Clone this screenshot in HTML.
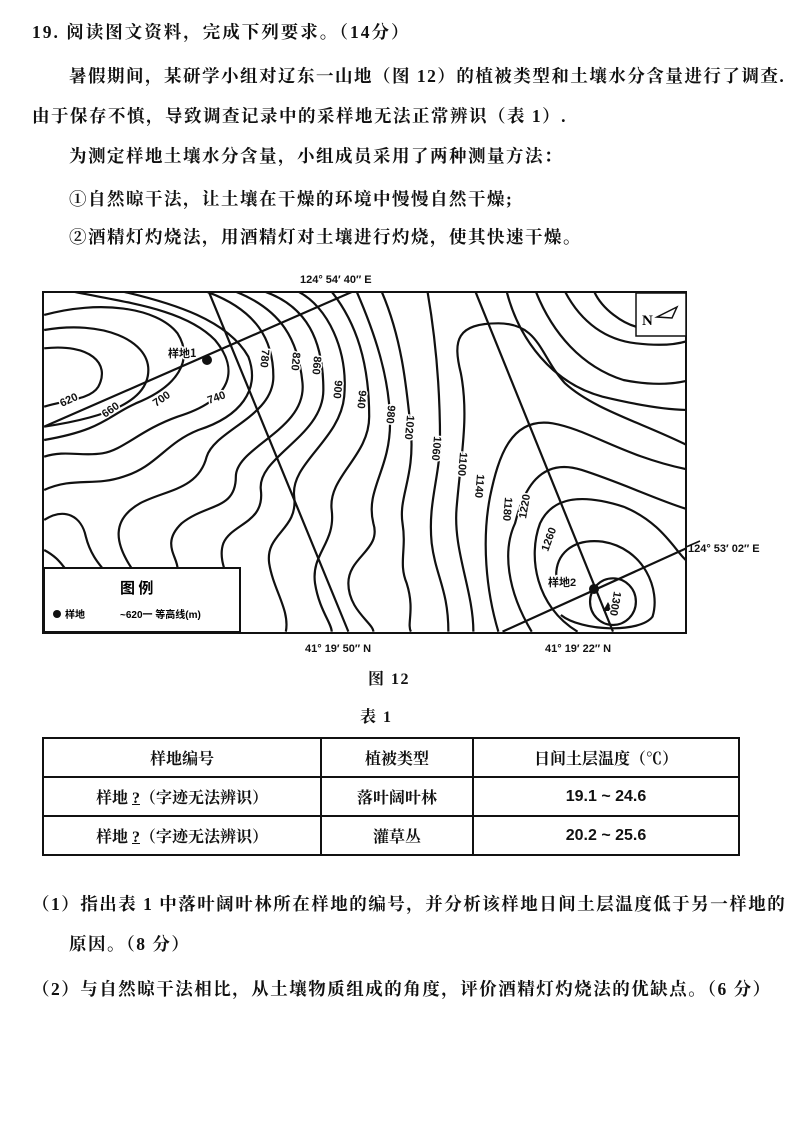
<!DOCTYPE html>
<html><head><meta charset="utf-8"><style>
body{margin:0;width:800px;height:1136px;background:#fff;position:relative;overflow:hidden;font-family:"Liberation Serif","Noto Serif CJK SC","Noto Sans CJK SC",serif;color:#111}
.t{position:absolute;white-space:nowrap;font-size:17.5px;font-weight:bold;line-height:1;letter-spacing:1.5px}
table{position:absolute;left:42px;top:737px;width:698px;border-collapse:collapse;font-size:16px;font-weight:bold}
td{border:2px solid #111;height:37px;text-align:center;padding:0}
svg{position:absolute;left:0;top:0}
</style></head><body>
<div class="t" style="left:32px;top:24px;letter-spacing:2px">19. 阅读图文资料，完成下列要求。（14分）</div>
<div class="t" style="left:69px;top:68px">暑假期间，某研学小组对辽东一山地（图 12）的植被类型和土壤水分含量进行了调查.</div>
<div class="t" style="left:32px;top:108px">由于保存不慎，导致调查记录中的采样地无法正常辨识（表 1）.</div>
<div class="t" style="left:69px;top:148px">为测定样地土壤水分含量，小组成员采用了两种测量方法：</div>
<div class="t" style="left:69px;top:191px">①自然晾干法，让土壤在干燥的环境中慢慢自然干燥;</div>
<div class="t" style="left:69px;top:229px">②酒精灯灼烧法，用酒精灯对土壤进行灼烧，使其快速干燥。</div>

<svg width="800" height="700" viewBox="0 0 800 700">
<defs><clipPath id="c"><rect x="43" y="292" width="643" height="341"/></clipPath></defs>
<g font-family="Liberation Sans,Noto Sans CJK SC,sans-serif" font-weight="bold" font-size="11" fill="#111">
<text x="300" y="283">124° 54′ 40″ E</text>
<text x="688" y="552">124° 53′ 02″ E</text>
<text x="305" y="652">41° 19′ 50″ N</text>
<text x="545" y="652">41° 19′ 22″ N</text>
</g>
<g clip-path="url(#c)">
<g transform="translate(40,290) scale(0.4167,0.3333)" fill="none" stroke="#111" stroke-width="2.2">
<path vector-effect="non-scaling-stroke" d="M10,175 C120,160 170,220 140,290 C120,330 60,330 10,350"/>
<path vector-effect="non-scaling-stroke" d="M10,120 C150,90 260,150 260,240 C260,330 170,380 10,410"/>
<path vector-effect="non-scaling-stroke" d="M10,75 C140,30 280,50 330,130 C370,210 330,290 230,340 C160,380 150,420 10,450"/>
<path vector-effect="non-scaling-stroke" d="M80,5 C220,40 350,60 420,150 C480,240 460,330 330,380 C240,420 200,480 150,490 C100,500 60,480 10,500"/>
<path vector-effect="non-scaling-stroke" d="M200,5 C320,40 450,90 500,200 C530,300 480,380 380,420 C300,460 280,530 200,560 C130,590 80,560 10,600"/>
<path vector-effect="non-scaling-stroke" d="M400,5 C520,60 560,150 560,260 C560,380 420,420 400,500 C380,600 300,600 240,640 C170,690 180,760 220,835"/>
<path vector-effect="non-scaling-stroke" d="M470,5 C580,60 620,150 630,280 C640,420 470,470 470,560 C470,660 400,640 340,700 C290,760 330,800 330,835"/>
<path vector-effect="non-scaling-stroke" d="M540,5 C640,50 680,150 680,300 C680,440 520,500 530,600 C540,700 460,700 440,760 C420,830 480,900 470,1025"/>
<path vector-effect="non-scaling-stroke" d="M620,5 C690,50 740,180 730,320 C720,450 600,520 610,620 C620,720 540,730 550,820 C560,900 600,960 590,1025"/>
<path vector-effect="non-scaling-stroke" d="M700,5 C760,100 790,220 790,380 C790,500 690,560 700,660 C710,760 650,790 660,880 C670,960 700,1000 700,1025"/>
<path vector-effect="non-scaling-stroke" d="M760,5 C800,120 840,260 840,400 C840,540 780,600 800,700 C820,780 740,800 740,880 C740,960 800,1000 800,1025"/>
<path vector-effect="non-scaling-stroke" d="M820,5 C870,150 880,300 890,420 C900,560 860,620 870,700 C880,780 860,820 880,880 C900,960 880,1000 890,1025"/>
<path vector-effect="non-scaling-stroke" d="M930,5 C950,150 960,300 960,450 C960,560 930,640 940,760 C950,860 980,900 980,1025"/>
<path vector-effect="non-scaling-stroke" d="M1040,1025 C1040,900 990,780 1000,650 C1010,500 1030,380 1010,250 C990,150 1000,100 1100,100 C1200,100 1200,200 1260,280 C1330,360 1450,400 1560,470"/>
<path vector-effect="non-scaling-stroke" d="M1100,1025 C1070,900 1060,750 1080,620 C1100,500 1130,380 1230,400 C1320,420 1400,500 1560,540"/>
<path vector-effect="non-scaling-stroke" d="M1180,1025 C1120,900 1110,780 1140,700 C1160,600 1200,500 1300,540 C1400,580 1500,640 1560,660"/>
<path vector-effect="non-scaling-stroke" d="M1290,1025 C1190,950 1170,800 1200,700 C1230,620 1300,610 1400,650 C1500,700 1530,800 1560,820"/>
<path vector-effect="non-scaling-stroke" d="M1240,880 C1230,790 1280,745 1350,755 C1450,775 1490,900 1470,980 C1440,1030 1300,1025 1250,975"/>
<ellipse vector-effect="non-scaling-stroke" cx="1375" cy="935" rx="55" ry="70"/>
<path vector-effect="non-scaling-stroke" d="M1120,5 C1150,150 1230,280 1350,320 C1450,350 1520,360 1560,360"/>
<path vector-effect="non-scaling-stroke" d="M1190,5 C1230,130 1300,230 1400,270 C1480,290 1530,280 1560,270"/>
<path vector-effect="non-scaling-stroke" d="M1260,5 C1300,100 1360,150 1430,160 C1500,170 1540,160 1560,150"/>
<path vector-effect="non-scaling-stroke" d="M1330,5 C1350,60 1400,100 1430,110"/>
<path vector-effect="non-scaling-stroke" d="M10,690 C60,650 100,680 110,740 C120,790 140,820 150,835"/>
<path vector-effect="non-scaling-stroke" d="M10,780 C40,800 50,820 60,835"/>
<line vector-effect="non-scaling-stroke" x1="10" y1="410" x2="750" y2="5"/>
<line vector-effect="non-scaling-stroke" x1="405" y1="5" x2="740" y2="1025"/>
<line vector-effect="non-scaling-stroke" x1="1045" y1="5" x2="1375" y2="1025"/>
<line vector-effect="non-scaling-stroke" x1="1110" y1="1025" x2="1560" y2="770"/>
</g></g>
<line x1="686" y1="547" x2="700" y2="541" stroke="#111" stroke-width="1.5"/>
<rect x="43" y="292" width="643" height="341" fill="none" stroke="#111" stroke-width="2"/>
<rect x="44" y="568" width="196" height="64" fill="#fff" stroke="#111" stroke-width="2"/>
<text x="120" y="593" font-family="Noto Sans CJK SC,sans-serif" font-weight="bold" font-size="15">图 例</text>
<circle cx="57" cy="614" r="4" fill="#111"/>
<text x="65" y="618" font-family="Noto Sans CJK SC,sans-serif" font-weight="bold" font-size="10">样地</text>
<text x="120" y="618" font-family="Liberation Sans,Noto Sans CJK SC,sans-serif" font-weight="bold" font-size="10">~620一 等高线(m)</text>
<rect x="636" y="293" width="50" height="43" fill="#fff" stroke="#111" stroke-width="1.5"/>
<text x="642" y="325" font-family="Liberation Serif,serif" font-weight="bold" font-size="15">N</text>
<path d="M657,317 L677,307 L672,318 Z" fill="none" stroke="#111" stroke-width="1.5"/>
<circle cx="207" cy="360" r="5" fill="#111"/>
<circle cx="594" cy="589" r="5" fill="#111"/>
<path d="M608,602 L603,611 L613,611 Z" fill="#111"/>
<g font-family="Liberation Sans,Noto Sans CJK SC,sans-serif" font-weight="bold" font-size="11" fill="#111">
<text x="168" y="357" font-family="Noto Sans CJK SC,sans-serif" font-size="11" stroke="#fff" stroke-width="3" paint-order="stroke">样地1</text>
<text x="548" y="586" font-size="11" stroke="#fff" stroke-width="3" paint-order="stroke">样地2</text>
<g stroke="#fff" stroke-width="3" paint-order="stroke">
<text transform="translate(62,407) rotate(-25)">620</text>
<text transform="translate(105,418) rotate(-35)">660</text>
<text transform="translate(156,407) rotate(-35)">700</text>
<text transform="translate(209,404) rotate(-20)">740</text>
<text transform="translate(262,349) rotate(95)">780</text>
<text transform="translate(293,352) rotate(95)">820</text>
<text transform="translate(314,356) rotate(95)">860</text>
<text transform="translate(335,380) rotate(95)">900</text>
<text transform="translate(359,390) rotate(95)">940</text>
<text transform="translate(388,405) rotate(95)">980</text>
<text transform="translate(407,415) rotate(95)">1020</text>
<text transform="translate(434,436) rotate(95)">1060</text>
<text transform="translate(460,452) rotate(95)">1100</text>
<text transform="translate(477,474) rotate(95)">1140</text>
<text transform="translate(505,497) rotate(95)">1180</text>
<text transform="translate(526,519) rotate(-80)">1220</text>
<text transform="translate(548,552) rotate(-70)">1260</text>
<text transform="translate(614,591) rotate(100)">1300</text>
</g></g>
</svg>
<div class="t" style="left:368px;top:672px;font-size:16px">图 12</div>
<div class="t" style="left:360px;top:710px;font-size:16px">表 1</div>
<table>
<tr><td style="width:276px">样地编号</td><td style="width:150px">植被类型</td><td>日间土层温度（℃）</td></tr>
<tr><td>样地 <u>?</u>（字迹无法辨识）</td><td>落叶阔叶林</td><td style="font-family:'Liberation Sans',sans-serif">19.1 ~ 24.6</td></tr>
<tr><td>样地 <u>?</u>（字迹无法辨识）</td><td>灌草丛</td><td style="font-family:'Liberation Sans',sans-serif">20.2 ~ 25.6</td></tr>
</table>
<div class="t" style="left:32px;top:896px">（1）指出表 1 中落叶阔叶林所在样地的编号，并分析该样地日间土层温度低于另一样地的</div>
<div class="t" style="left:69px;top:936px">原因。（8 分）</div>
<div class="t" style="left:32px;top:981px">（2）与自然晾干法相比，从土壤物质组成的角度，评价酒精灯灼烧法的优缺点。（6 分）</div>
</body></html>
